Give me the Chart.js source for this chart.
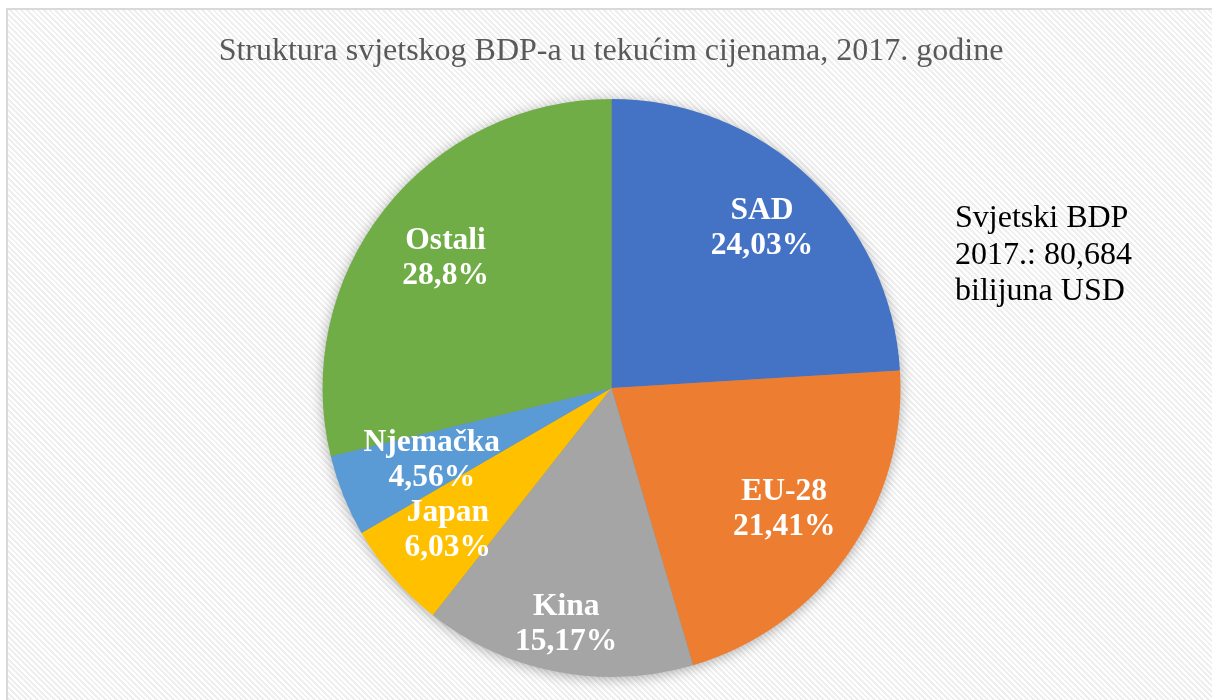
<!DOCTYPE html>
<html>
<head>
<meta charset="utf-8">
<script src="https://cdn.jsdelivr.net/npm/chart.js@4"></script>
<style>
  html, body { margin: 0; padding: 0; background: #fff; }
  body { width: 1212px; height: 700px; position: relative; overflow: hidden; }
  .frame {
    position: absolute; left: 6px; top: 8px; width: 1300px; height: 800px;
    border: 2px solid #d9d9d9;
    background: repeating-linear-gradient(45deg, #ffffff 0px, #ffffff 2px, #efefef 2px, #efefef 4px);
  }
  #wrap { position: absolute; left: 0; top: 0; width: 1212px; height: 700px; }
</style>
</head>
<body>
<div class="frame"></div>
<div id="wrap"><canvas id="bdp_chart" width="1212" height="700"></canvas></div>
<script>
// data
const labels = ["SAD", "EU-28", "Kina", "Japan", "Njemačka", "Ostali"];
const shares = [24.03, 21.41, 15.17, 6.03, 4.56, 28.8];
const shareText = ["24,03%", "21,41%", "15,17%", "6,03%", "4,56%", "28,8%"];
const colors = ["#4472C4", "#ED7D31", "#A5A5A5", "#FFC000", "#5B9BD5", "#70AD47"];
const titleText = "Struktura svjetskog BDP-a u tekućim cijenama, 2017. godine";
const noteLines = ["Svjetski BDP", "2017.: 80,684", "bilijuna USD"];

// how far out each label sits (fraction of radius)
const labelRadius = [0.76, 0.73, 0.83, 0.75, 0.67, 0.73];

const shadowPlugin = {
    id: "pieShadow",
    beforeDatasetsDraw(chart) {
        const arc = chart.getDatasetMeta(0).data[0];
        if (!arc) return;
        const ctx = chart.ctx;
        ctx.save();
        ctx.shadowColor = "rgba(0,0,0,0.35)";
        ctx.shadowBlur = 14;
        ctx.shadowOffsetY = 2;
        ctx.fillStyle = "#888";
        ctx.beginPath();
        ctx.arc(arc.x, arc.y, arc.outerRadius - 1, 0, Math.PI * 2);
        ctx.fill();
        ctx.restore();
    }
};

const textPlugin = {
    id: "texts",
    afterDatasetsDraw(chart) {
        const ctx = chart.ctx;
        const meta = chart.getDatasetMeta(0);
        ctx.save();
        // slice labels
        ctx.fillStyle = "#ffffff";
        ctx.font = "bold 31.5px 'Liberation Serif', 'Times New Roman', serif";
        ctx.textAlign = "center";
        ctx.textBaseline = "middle";
        meta.data.forEach((arc, i) => {
            const mid = (arc.startAngle + arc.endAngle) / 2;
            const r = arc.outerRadius * labelRadius[i];
            const x = arc.x + Math.cos(mid) * r;
            const y = arc.y + Math.sin(mid) * r;
            ctx.fillText(labels[i], x, y - 17);
            ctx.fillText(shareText[i], x, y + 18);
        });
        // title
        ctx.fillStyle = "#595959";
        ctx.font = "32px 'Liberation Serif', 'Times New Roman', serif";
        ctx.textBaseline = "alphabetic";
        ctx.fillText(titleText, 611, 60);
        // note on the right
        ctx.fillStyle = "#000000";
        ctx.font = "32px 'Liberation Serif', 'Times New Roman', serif";
        ctx.textAlign = "left";
        noteLines.forEach((t, i) => ctx.fillText(t, 955, 227 + i * 36.5));
        ctx.restore();
    }
};

new Chart("bdp_chart", {
    type: "pie",
    data: {
        labels: labels,
        datasets: [{
            data: shares,
            backgroundColor: colors,
            borderWidth: 0
        }]
    },
    options: {
        responsive: false,
        animation: false,
        layout: { padding: { top: 99, bottom: 23, left: 11, right: 0 } },
        plugins: {
            legend: { display: false },
            tooltip: { enabled: false },
            title: { display: false }
        }
    },
    plugins: [shadowPlugin, textPlugin]
});
</script>
</body>
</html>
